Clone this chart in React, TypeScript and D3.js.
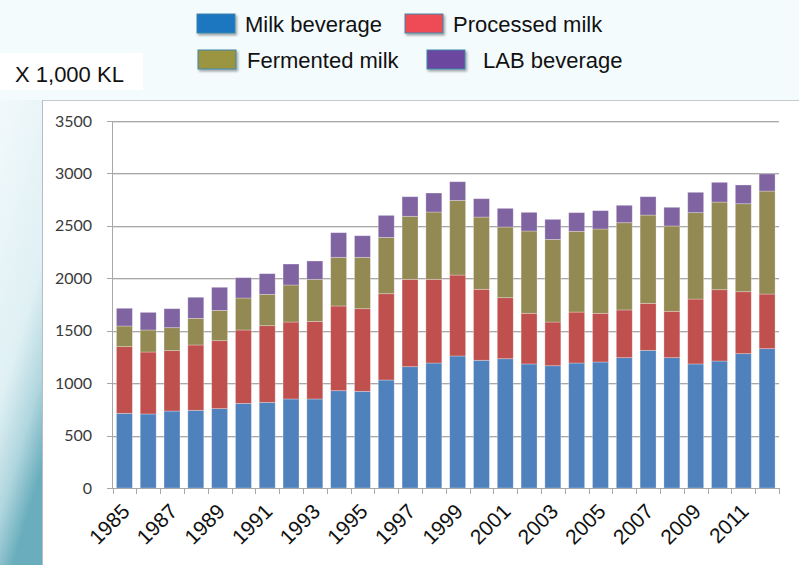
import * as d3 from "d3";

const years = d3.range(1985, 2013).map(String);
const milkBeverage = [712, 706, 734, 741, 757, 807, 817, 849, 849, 928, 922, 1030, 1157, 1192, 1259, 1218, 1233, 1183, 1166, 1192, 1202, 1243, 1313, 1243, 1183, 1211, 1281, 1329];
const processedMilk = [636, 591, 576, 623, 648, 700, 731, 734, 740, 808, 788, 823, 833, 798, 772, 677, 582, 483, 417, 486, 464, 455, 448, 442, 619, 680, 591, 521];
const fermentedMilk = [197, 210, 219, 254, 289, 305, 299, 353, 401, 464, 490, 537, 601, 642, 712, 689, 674, 785, 788, 770, 804, 832, 842, 814, 824, 836, 839, 982];
const labBeverage = [169, 168, 181, 201, 220, 194, 197, 200, 175, 235, 206, 210, 187, 181, 178, 175, 178, 178, 191, 178, 175, 166, 175, 178, 194, 188, 179, 163];
const seriesNames = ["Milk beverage", "Processed milk", "Fermented milk", "LAB beverage"];
const yTicks = [0, 500, 1000, 1500, 2000, 2500, 3000, 3500];

const barColors = ["#4f81bd", "#c0504d", "#938953", "#8064a2"];
const legendColors = ["#1a76c0", "#ee4c56", "#9b9542", "#6c46a0"];

export default function App() {
  const width = 799;
  const height = 565;

  const x = d3.scaleBand().domain(years).range([112.5, 779]).paddingInner(0.33).paddingOuter(0.165);
  const y = d3.scaleLinear().domain([0, 3500]).range([488, 121]);

  const rows = years.map((yr, i) => ({
    year: yr,
    "Milk beverage": milkBeverage[i],
    "Processed milk": processedMilk[i],
    "Fermented milk": fermentedMilk[i],
    "LAB beverage": labBeverage[i],
  }));
  const stacked = d3.stack<any>().keys(seriesNames)(rows);

  // legend layout: two rows
  const legend = [
    { name: seriesNames[0], sx: 197, sy: 14, tx: 245, ty: 32, c: legendColors[0] },
    { name: seriesNames[1], sx: 405, sy: 14, tx: 453, ty: 32, c: legendColors[1] },
    { name: seriesNames[2], sx: 198, sy: 50, tx: 247, ty: 68, c: legendColors[2] },
    { name: seriesNames[3], sx: 427, sy: 50, tx: 483, ty: 68, c: legendColors[3] },
  ];

  const boundaries = years.map((yr) => x(yr)! - (x.step() - x.bandwidth()) / 2).concat([779]);

  return (
    <svg width={width} height={height} style={{ position: "absolute", left: 0, top: 0 }} fontFamily="'Liberation Sans', Arial, sans-serif">
      <defs>
        <linearGradient id="side" x1="0" y1="0" x2="0.3" y2="1">
          <stop offset="0" stopColor="#f2f9fb" />
          <stop offset="0.6" stopColor="#dff0f4" />
          <stop offset="0.82" stopColor="#b0d6de" />
          <stop offset="1" stopColor="#6aaebd" />
        </linearGradient>
        <filter id="shadow" x="-20%" y="-20%" width="150%" height="160%">
          <feDropShadow dx="1.5" dy="2" stdDeviation="1.2" floodColor="#000" floodOpacity="0.35" />
        </filter>
      </defs>
      <rect width={width} height={height} fill="#f4fbfd" />
      <rect x={0} y={100} width={42} height={465} fill="url(#side)" />

      {/* unit label */}
      <rect x={0} y={53} width={143} height={37} fill="#ffffff" />
      <text x={15} y={82} fontSize={22} fill="#111">X 1,000 KL</text>

      {/* legend */}
      {legend.map((l) => (
        <g key={l.name}>
          <rect x={l.sx} y={l.sy} width={38} height={19} fill={l.c} stroke="#3d86a8" strokeWidth={1} filter="url(#shadow)" />
          <text x={l.tx} y={l.ty} fontSize={22} fill="#111">{l.name}</text>
        </g>
      ))}

      {/* plot panel */}
      <rect x={42} y={100} width={757} height={465} fill="#ffffff" />
      <line x1={42} x2={799} y1={100.5} y2={100.5} stroke="#c5cace" />
      <line x1={42.5} x2={42.5} y1={100} y2={565} stroke="#b8bec2" />

      {/* grid */}
      {yTicks.slice(1).map((t) => (
        <g key={t}>
          <line x1={112.5} x2={779} y1={Math.round(y(t)) + 1.5} y2={Math.round(y(t)) + 1.5} stroke="#e2e2e2" />
          <line x1={107} x2={779} y1={Math.round(y(t)) + 0.5} y2={Math.round(y(t)) + 0.5} stroke="#a8a8a8" />
        </g>
      ))}

      {/* bars */}
      {stacked.map((s, si) => (
        <g key={s.key} fill={barColors[si]}>
          {s.map((d, i) => (
            <rect
              key={i}
              x={x(years[i])}
              y={y(d[1])}
              width={x.bandwidth()}
              height={y(d[0]) - y(d[1])}
              stroke="#ffffff"
              strokeOpacity={0.35}
              strokeWidth={0.8}
            />
          ))}
        </g>
      ))}

      {/* y axis */}
      <line x1={112.5} x2={112.5} y1={121} y2={488} stroke="#a8a8a8" />
      {yTicks.map((t) => (
        <text key={t} x={92} y={y(t)} dy="0.35em" textAnchor="end" fontSize={16} fontFamily="Lato, 'Open Sans', sans-serif" fill="#3a3a3a">
          {t}
        </text>
      ))}

      {/* x axis */}
      <line x1={107} x2={779} y1={488.5} y2={488.5} stroke="#a8a8a8" />
      {boundaries.map((b, i) => (
        <line key={i} x1={Math.round(b) + 0.5} x2={Math.round(b) + 0.5} y1={488} y2={494} stroke="#a8a8a8" />
      ))}
      {years.filter((_, i) => i % 2 === 0).map((yr) => {
        const cx = x(yr)! + x.bandwidth() / 2;
        return (
          <text key={yr} transform={`translate(${cx - 6},${500}) rotate(-45)`} dy="0.85em" textAnchor="end" fontSize={21} fill="#111">
            {yr}
          </text>
        );
      })}
    </svg>
  );
}
